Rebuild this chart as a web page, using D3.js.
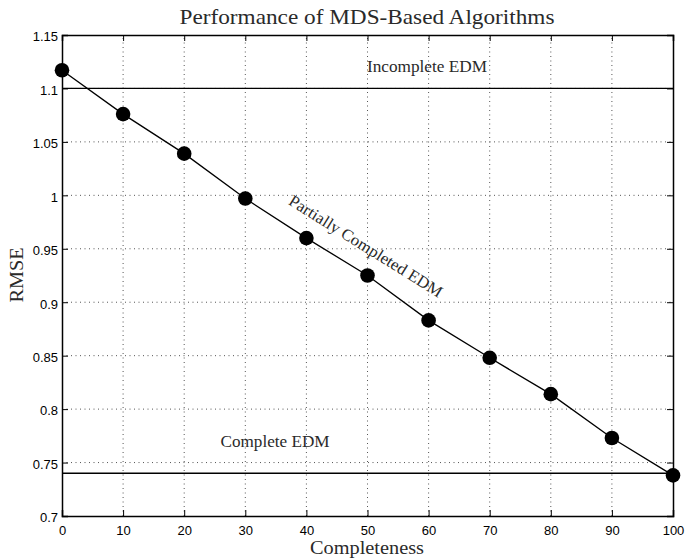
<!DOCTYPE html>
<html><head><meta charset="utf-8">
<script src="https://cdn.jsdelivr.net/npm/d3@7"></script>
<style>body{margin:0;background:#fff}svg{display:block}</style>
</head><body>
<script>
const completeness = [0,10,20,30,40,50,60,70,80,90,100];
const rmse = [1.117,1.076,1.039,0.997,0.960,0.925,0.883,0.848,0.814,0.773,0.738];
const incompleteEDM = 1.1;
const completeEDM = 0.74;
const xTicks = [0,10,20,30,40,50,60,70,80,90,100];
const yTicks = [0.7,0.75,0.8,0.85,0.9,0.95,1,1.05,1.1,1.15];

const W=685,H=559;
const m={l:62,r:12,t:35,b:43};
const svg=d3.select("body").append("svg").attr("width",W).attr("height",H);
const x=d3.scaleLinear().domain([0,100]).range([m.l,W-m.r]);
const y=d3.scaleLinear().domain([0.7,1.15]).range([H-m.b,m.t]);
const serif="'Liberation Serif','Times New Roman',serif";
const sans="'Liberation Sans',Arial,sans-serif";

// grid
const g=svg.append("g");
g.selectAll("line.gx").data(xTicks.slice(1,-1)).join("line")
 .attr("x1",d=>x(d)).attr("x2",d=>x(d)).attr("y1",y(0.7)).attr("y2",y(1.15))
 .attr("stroke","#555").attr("stroke-width",1).attr("stroke-dasharray","1,3.5");
g.selectAll("line.gy").data(yTicks.slice(1,-1)).join("line")
 .attr("y1",d=>y(d)).attr("y2",d=>y(d)).attr("x1",x(0)).attr("x2",x(100))
 .attr("stroke","#555").attr("stroke-width",1).attr("stroke-dasharray","1,3.5");

// axes
const xb=svg.append("g").attr("transform",`translate(0,${y(0.7)})`)
 .call(d3.axisBottom(x).tickValues(xTicks).tickSize(-6).tickPadding(10).tickFormat(d3.format("d")));
const xt=svg.append("g").attr("transform",`translate(0,${y(1.15)})`)
 .call(d3.axisTop(x).tickValues(xTicks).tickSize(-6).tickFormat(""));
const yl=svg.append("g").attr("transform",`translate(${x(0)},0)`)
 .call(d3.axisLeft(y).tickValues(yTicks).tickSize(-6).tickPadding(4).tickFormat(d=>String(+d.toFixed(2))));
const yr=svg.append("g").attr("transform",`translate(${x(100)},0)`)
 .call(d3.axisRight(y).tickValues(yTicks).tickSize(-6).tickFormat(""));
[xb,xt,yl,yr].forEach(a=>{
 a.select(".domain").attr("stroke","#000").attr("stroke-width",1.5);
 a.selectAll(".tick line").attr("stroke","#000").attr("stroke-width",1);
 a.selectAll("text").attr("font-family",sans).attr("font-size",13).attr("fill","#000");
});
yl.selectAll("text").attr("dy","0.45em");

// reference lines
svg.append("line").attr("x1",x(0)).attr("x2",x(100)).attr("y1",y(incompleteEDM)).attr("y2",y(incompleteEDM))
 .attr("stroke","#000").attr("stroke-width",1.3);
svg.append("line").attr("x1",x(0)).attr("x2",x(100)).attr("y1",y(completeEDM)).attr("y2",y(completeEDM))
 .attr("stroke","#000").attr("stroke-width",1.3);

// series
const pts=completeness.map((c,i)=>[c,rmse[i]]);
svg.append("path").datum(pts).attr("fill","none").attr("stroke","#000").attr("stroke-width",1.3)
 .attr("d",d3.line().x(d=>x(d[0])).y(d=>y(d[1])));
svg.selectAll("circle").data(pts).join("circle")
 .attr("cx",d=>x(d[0])).attr("cy",d=>y(d[1])).attr("r",7.3).attr("fill","#000");

// labels
function lab(txt,tr,size,len,dy){
 svg.append("text").attr("transform",tr).attr("text-anchor","middle").attr("dy",dy||0)
  .attr("font-family",serif).attr("font-size",size).attr("fill","#2a2a2a")
  .attr("textLength",len).attr("lengthAdjust","spacingAndGlyphs").text(txt);
}
lab("Incomplete EDM","translate(427,72)",16,120);
lab("Complete EDM","translate(275,447)",16,109);
lab("Partially Completed EDM","translate(366,246) rotate(32)",16.5,178,"0.35em");
lab("Performance of MDS-Based Algorithms","translate(367,24)",21,375);
lab("Completeness","translate(367,554)",19,114);
lab("RMSE","translate(23,275) rotate(-90)",19,55);
</script>
</body></html>
